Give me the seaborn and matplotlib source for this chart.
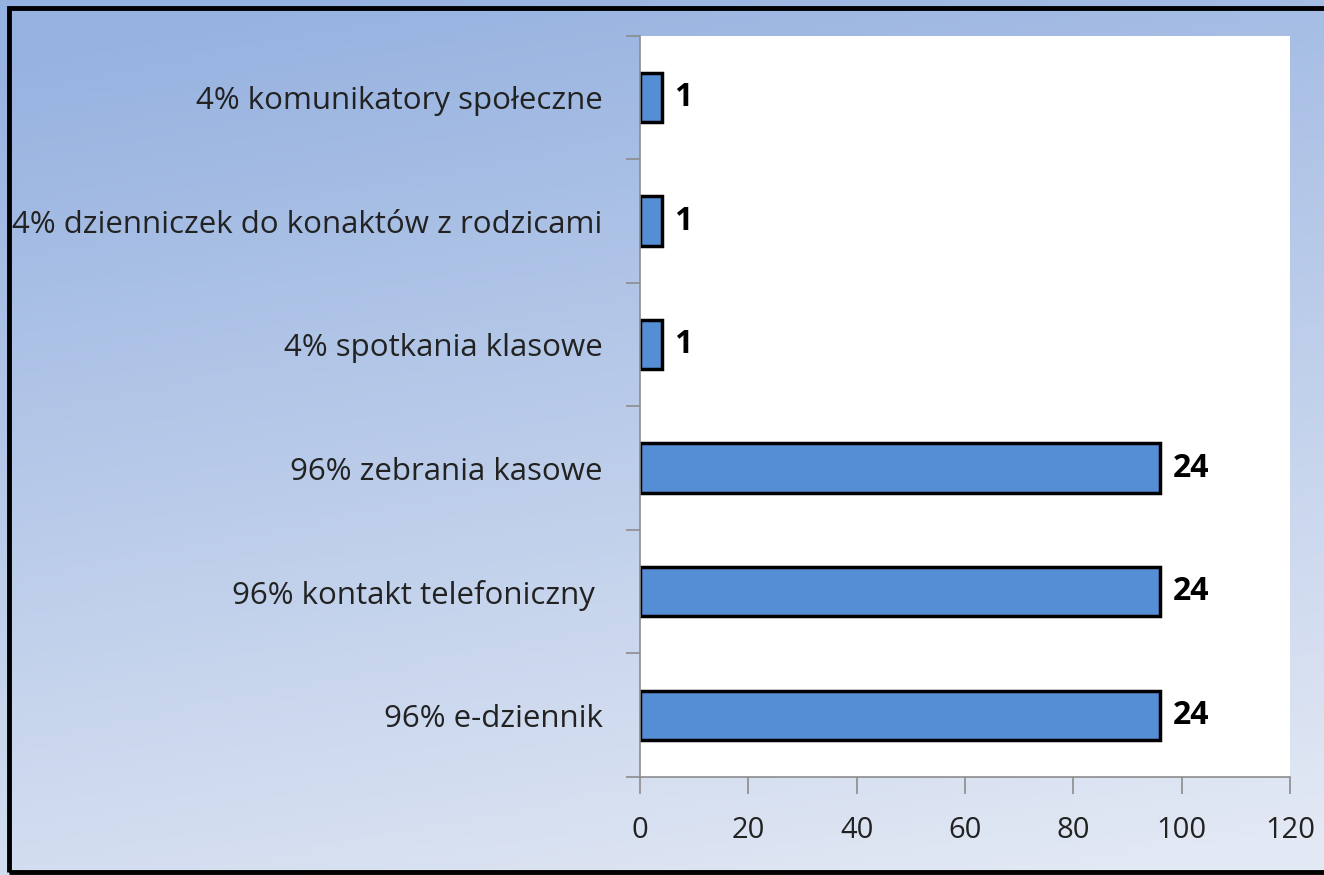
import numpy as np
import pandas as pd
import matplotlib
matplotlib.use("Agg")
import matplotlib.pyplot as plt
import seaborn as sns
from matplotlib.patches import Rectangle
from matplotlib.ticker import FixedLocator

categories = ["4% komunikatory społeczne",
              "4% dzienniczek do konaktów z rodzicami",
              "4% spotkania klasowe",
              "96% zebrania kasowe",
              "96% kontakt telefoniczny ",
              "96% e-dziennik"]
percent = [4, 4, 4, 96, 96, 96]
counts = [1, 1, 1, 24, 24, 24]
xticks = [0, 20, 40, 60, 80, 100, 120]

sns.set_theme(style="white")
plt.rcParams['font.family'] = ['Open Sans', 'DejaVu Sans']

fig = plt.figure(figsize=(13.24, 8.75), dpi=100)

# gradient background
bg = fig.add_axes([0, 0, 1, 1], zorder=-10)
h, w = 200, 200
yy, xx = np.mgrid[0:1:h*1j, 0:1:w*1j]
t = np.clip(0.85 * yy + 0.25 * xx - 0.05, 0, 1)
top = np.array([150, 178, 224]) / 255
bot = np.array([226, 232, 244]) / 255
img = top[None, None, :] * (1 - t[..., None]) + bot[None, None, :] * t[..., None]
bg.imshow(img, aspect='auto', extent=[0, 1, 0, 1], origin='upper')
bg.set_axis_off()
fig.patches.append(Rectangle((0.0065, 0.004), 1.05, 0.987, transform=fig.transFigure,
                             fill=False, edgecolor='black', linewidth=3.5, zorder=5))

ax = fig.add_axes([0.4834, 0.112, 0.491, 0.847])
df = pd.DataFrame({"cat": categories, "pct": percent})
sns.barplot(data=df, y="cat", x="pct", orient="h", color="#558ED5", saturation=1,
            width=0.4, edgecolor="black", linewidth=2.5, ax=ax)
ax.set_facecolor("white")
ax.set_xlim(0, 120)
ax.set_ylim(5.5, -0.5)
ax.set_xticks(xticks)
ax.set_xticklabels([str(v) for v in xticks], fontsize=21, color="#222222")
ax.set_xlabel("")
ax.set_ylabel("")
ax.tick_params(axis='y', which='major', length=0, pad=27, labelsize=22.5, labelcolor="#222222")
ax.yaxis.set_minor_locator(FixedLocator(np.arange(-0.5, 6.0, 1.0)))
ax.tick_params(axis='y', which='minor', left=True, length=10, width=1.2, color="#8c8c8c")
ax.tick_params(axis='x', which='major', bottom=True, length=12, width=1.2, color="#8c8c8c", pad=16)
for s in ["top", "right"]:
    ax.spines[s].set_visible(False)
for s in ["left", "bottom"]:
    ax.spines[s].set_color("#8c8c8c")
    ax.spines[s].set_linewidth(1.2)

for i, (p, c) in enumerate(zip(percent, counts)):
    ax.annotate(str(c), xy=(p, i), xytext=(9, 0), textcoords="offset points",
                ha="left", va="center", fontsize=23, fontweight="bold", color="black")

fig.savefig("out.png", dpi=100)
